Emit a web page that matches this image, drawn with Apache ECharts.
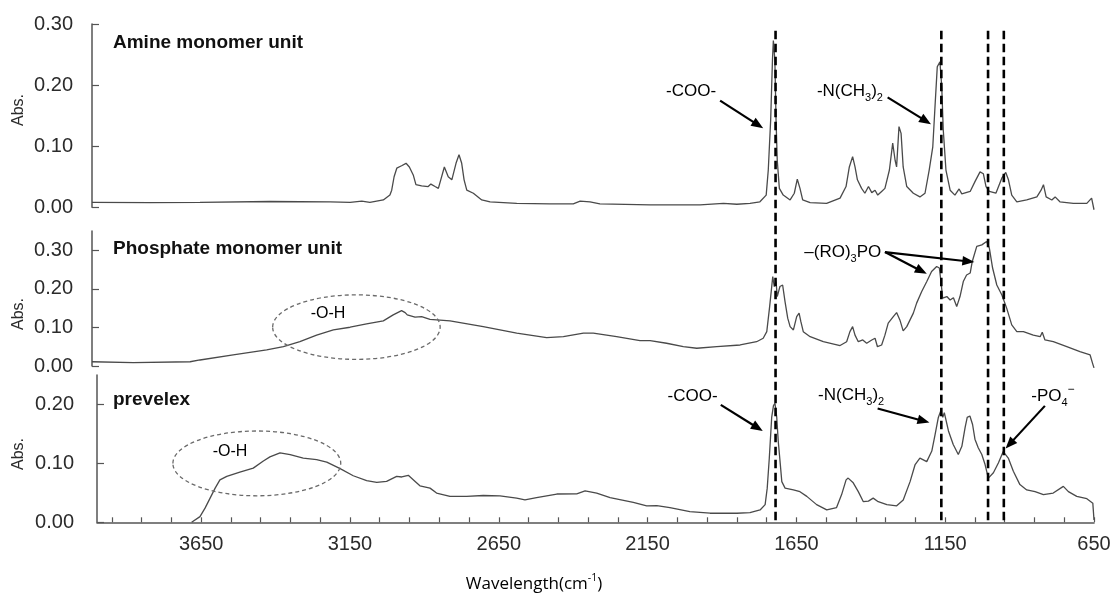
<!DOCTYPE html>
<html>
<head>
<meta charset="utf-8">
<script src="https://cdn.jsdelivr.net/npm/echarts@6/dist/echarts.min.js"></script>
<style>
  html, body { margin: 0; padding: 0; background: #fff; }
  #chart { width: 1115px; height: 594px; }
</style>
</head>
<body>
<div id="chart"></div>
<script>
// FT-IR absorbance spectra: [wavenumber (cm-1), absorbance]
const amineSpectrum = [
  [4000,0.008],[3806,0.0075],[3639,0.008],[3405,0.0095],[3204,0.009],[3137,0.008],[3098,0.010],[3071,0.008],
  [3026,0.012],[3004,0.020],[2998,0.028],[2990,0.050],[2981,0.064],[2965,0.068],[2950,0.072],[2939,0.066],
  [2926,0.053],[2917,0.037],[2898,0.035],[2876,0.034],[2867,0.038],[2853,0.034],[2842,0.031],[2834,0.045],
  [2822,0.066],[2809,0.050],[2797,0.045],[2783,0.072],[2773,0.086],[2764,0.072],[2756,0.045],[2747,0.028],
  [2725,0.023],[2697,0.012],[2669,0.009],[2580,0.0065],[2469,0.0055],[2391,0.0055],[2368,0.010],[2335,0.009],
  [2302,0.0055],[2134,0.004],[1967,0.004],[1889,0.0065],[1844,0.005],[1800,0.0065],[1767,0.009],[1746,0.020],
  [1739,0.061],[1731,0.143],[1725,0.241],[1722,0.273],[1717,0.241],[1713,0.143],[1709,0.077],[1702,0.031],
  [1689,0.020],[1666,0.012],[1652,0.023],[1642,0.046],[1633,0.031],[1624,0.012],[1599,0.0075],[1544,0.0065],
  [1499,0.015],[1479,0.034],[1468,0.066],[1457,0.083],[1449,0.066],[1441,0.045],[1427,0.031],[1416,0.023],
  [1404,0.034],[1393,0.024],[1382,0.028],[1373,0.020],[1360,0.026],[1349,0.031],[1334,0.061],[1323,0.105],
  [1315,0.077],[1310,0.066],[1302,0.132],[1295,0.121],[1288,0.066],[1276,0.034],[1254,0.023],[1232,0.017],
  [1215,0.023],[1201,0.061],[1189,0.099],[1181,0.170],[1174,0.230],[1165,0.238],[1159,0.197],[1154,0.127],
  [1145,0.061],[1131,0.028],[1115,0.020],[1101,0.030],[1092,0.022],[1064,0.026],[1048,0.042],[1031,0.058],
  [1020,0.055],[1011,0.034],[1000,0.026],[978,0.023],[958,0.048],[945,0.057],[936,0.045],[925,0.020],
  [908,0.009],[875,0.012],[841,0.017],[827,0.028],[819,0.037],[810,0.017],[791,0.012],[780,0.017],
  [764,0.009],[719,0.0065],[674,0.0065],[658,0.015],[650,-0.004]
];

const phosphateSpectrum = [
  [4000,0.011],[3862,0.0086],[3672,0.011],[3639,0.0156],[3528,0.0286],[3416,0.0416],[3360,0.050],[3305,0.063],
  [3249,0.080],[3193,0.0935],[3137,0.1005],[3082,0.109],[3026,0.117],[2993,0.1325],[2965,0.1437],[2953,0.1385],
  [2946,0.1325],[2920,0.1265],[2898,0.128],[2870,0.121],[2803,0.117],[2692,0.102],[2580,0.085],[2480,0.0736],
  [2424,0.0762],[2357,0.085],[2324,0.085],[2246,0.0762],[2168,0.0658],[2134,0.0658],[2079,0.059],[2023,0.050],
  [1978,0.046],[1911,0.050],[1833,0.0545],[1778,0.063],[1756,0.072],[1744,0.089],[1735,0.150],[1728,0.202],
  [1724,0.232],[1719,0.206],[1713,0.219],[1709,0.180],[1700,0.206],[1691,0.210],[1683,0.167],[1674,0.124],
  [1666,0.102],[1655,0.0935],[1644,0.128],[1636,0.137],[1630,0.115],[1622,0.089],[1599,0.076],[1555,0.063],
  [1499,0.053],[1477,0.063],[1466,0.089],[1457,0.102],[1449,0.080],[1438,0.063],[1423,0.0675],[1410,0.059],
  [1393,0.0675],[1382,0.072],[1374,0.050],[1360,0.0545],[1349,0.080],[1338,0.111],[1321,0.128],[1310,0.1385],
  [1299,0.1195],[1288,0.091],[1276,0.102],[1265,0.1195],[1254,0.137],[1243,0.163],[1226,0.193],[1209,0.219],
  [1193,0.245],[1176,0.258],[1167,0.254],[1161,0.215],[1156,0.176],[1142,0.180],[1131,0.171],[1120,0.177],
  [1109,0.154],[1098,0.180],[1087,0.219],[1076,0.236],[1064,0.241],[1057,0.271],[1042,0.310],[1025,0.314],
  [1009,0.323],[1000,0.306],[989,0.254],[975,0.210],[958,0.184],[942,0.150],[925,0.1065],[908,0.089],
  [886,0.089],[853,0.080],[830,0.076],[823,0.0875],[814,0.0675],[786,0.063],[741,0.050],[697,0.037],
  [663,0.0286],[654,0.005],[650,-0.005]
];

const prevelexSpectrum = [
  [3682,0],[3654,0.0096],[3637,0.024],[3620,0.041],[3603,0.058],[3587,0.072],[3564,0.078],[3520,0.085],
  [3475,0.092],[3441,0.104],[3419,0.111],[3385,0.118],[3351,0.115],[3307,0.109],[3262,0.1065],[3228,0.102],
  [3183,0.091],[3139,0.079],[3094,0.0706],[3060,0.0677],[3027,0.0694],[2993,0.078],[2976,0.0769],[2954,0.0797],
  [2931,0.0694],[2915,0.062],[2881,0.058],[2859,0.0496],[2814,0.044],[2758,0.044],[2702,0.0455],[2646,0.045],
  [2590,0.041],[2562,0.038],[2523,0.042],[2455,0.048],[2388,0.0484],[2360,0.0535],[2321,0.0496],[2276,0.042],
  [2198,0.034],[2153,0.028],[2119,0.0284],[2075,0.025],[2008,0.018],[1940,0.0154],[1850,0.0154],[1806,0.0164],
  [1772,0.021],[1755,0.030],[1748,0.058],[1741,0.109],[1733,0.178],[1727,0.198],[1722,0.202],[1716,0.178],
  [1711,0.138],[1705,0.104],[1699,0.069],[1688,0.058],[1660,0.055],[1638,0.052],[1615,0.044],[1582,0.030],
  [1548,0.021],[1515,0.025],[1498,0.047],[1483,0.072],[1476,0.075],[1459,0.067],[1442,0.052],[1425,0.035],
  [1408,0.036],[1392,0.041],[1375,0.035],[1346,0.030],[1313,0.028],[1291,0.038],[1268,0.069],[1251,0.098],
  [1235,0.109],[1212,0.103],[1195,0.121],[1184,0.149],[1173,0.178],[1165,0.189],[1158,0.178],[1153,0.186],
  [1139,0.155],[1123,0.132],[1106,0.115],[1094,0.129],[1083,0.161],[1076,0.178],[1067,0.1805],[1058,0.166],
  [1050,0.141],[1039,0.1265],[1027,0.115],[1016,0.098],[1005,0.075],[999,0.072],[988,0.084],[971,0.101],
  [955,0.120],[938,0.109],[921,0.0865],[899,0.064],[876,0.055],[848,0.052],[820,0.047],[787,0.0496],
  [753,0.061],[736,0.052],[708,0.044],[674,0.040],[654,0.0325],[650,0.004]
];

const panelTitles = ['Amine monomer unit', 'Phosphate monomer unit', 'prevelex'];
const panelMaxAbs = [0.30, 0.35, 0.25];
const absTickValues = [[0, 0.1, 0.2, 0.3], [0, 0.1, 0.2, 0.3], [0, 0.1, 0.2]];
const wavenumberLabels = [650, 1150, 1650, 2150, 2650, 3150, 3650];
const wavenumberMin = 650, wavenumberMax = 4000, minorStep = 100;
// marker bands drawn as dashed verticals through all panels (cm-1)
const bandLines = [1720, 1163, 1006, 953];
const bandTopAbs = 0.289; // top end of the band lines, in top-panel units

// annotation anchors in data units of their own panel
const annotations = [
  { panel: 0, label: '{b|-COO-}', at: [1997, 0.190], arrows: [[[1900, 0.1745], [1756, 0.1293]]] },
  { panel: 0, label: '{b|-N(CH}{s|3}{b|)}{s|2}', at: [1466, 0.190], arrows: [[[1340, 0.180], [1195, 0.136]]] },
  { panel: 1, label: '{b|\u2013(RO)}{s|3}{b|PO}', at: [1490, 0.2935],
    arrows: [[[1349, 0.2953], [1209, 0.239]], [[1349, 0.2953], [1050, 0.2694]]] },
  { panel: 1, label: '{o|-O-H}', at: [3211, 0.135], arrows: [] },
  { panel: 2, label: '{b|-COO-}', at: [1999, 0.2133], arrows: [[[1904, 0.1993], [1763, 0.1549]]] },
  { panel: 2, label: '{b|-N(CH}{s|3}{b|)}{s|2}', at: [1466, 0.2159], arrows: [[[1377, 0.1932], [1203, 0.1692]]] },
  { panel: 2, label: '{b|-PO}{s|4}{p|\u2212}', at: [788, 0.2142], arrows: [[[815, 0.1976], [947, 0.1253]]] },
  { panel: 2, label: '{o|-O-H}', at: [3553, 0.1202], arrows: [] }
];
// dashed ellipses: centre, half-width (cm-1), half-height (abs.)
const ellipses = [
  { panel: 1, center: [3116, 0.1008], halfWidth: 280, halfHeight: 0.0836 },
  { panel: 2, center: [3463, 0.100], halfWidth: 282, halfHeight: 0.055 }
];

const spectra = [amineSpectrum, phosphateSpectrum, prevelexSpectrum];
const gridBoxes = [
  { left: 92, right: 21, top: 24, height: 183.3 },
  { left: 92, right: 21, top: 231, height: 135 },
  { left: 97, right: 21, top: 375, height: 147.3 }
];

const FONT = '"Liberation Sans", Arial, sans-serif';
const AXIS_COLOR = '#555555';

const minorTicks = [];
for (let v = wavenumberMin; v < wavenumberMax; v += minorStep) minorTicks.push(v);

const option = {
  animation: false,
  backgroundColor: '#ffffff',
  grid: gridBoxes.map(g => Object.assign({ containLabel: false }, g)),
  xAxis: gridBoxes.map((g, i) => {
    const isBottom = i === 2;
    return {
      type: 'value', gridIndex: i, min: wavenumberMin, max: wavenumberMax, inverse: true,
      axisLine: { show: isBottom, onZero: false, lineStyle: { color: AXIS_COLOR, width: 1.6 } },
      axisTick: { show: isBottom, inside: true, length: 5, customValues: minorTicks,
                  lineStyle: { color: AXIS_COLOR, width: 1.2 } },
      axisLabel: { show: isBottom, customValues: wavenumberLabels, margin: 12,
                   formatter: v => String(v),
                   fontFamily: FONT, fontSize: 20, color: '#2b2b2b' },
      splitLine: { show: false }
    };
  }),
  yAxis: gridBoxes.map((g, i) => ({
    type: 'value', gridIndex: i, min: 0, max: panelMaxAbs[i],
    axisLine: { show: true, lineStyle: { color: AXIS_COLOR, width: 1.5 } },
    axisTick: { show: true, inside: true, length: 7, customValues: absTickValues[i],
                lineStyle: { color: AXIS_COLOR, width: 1.2 } },
    axisLabel: { customValues: absTickValues[i], formatter: v => v.toFixed(2),
                 margin: i === 2 ? 23 : 19, fontFamily: FONT, fontSize: 20, color: '#2b2b2b' },
    splitLine: { show: false }
  })),
  series: spectra.map((data, i) => ({
    name: panelTitles[i], type: 'line', xAxisIndex: i, yAxisIndex: i, data: data,
    showSymbol: false, symbol: 'none', clip: false, smooth: false,
    lineStyle: { color: '#4a4a4a', width: 1.3 }
  }))
};

const chart = echarts.init(document.getElementById('chart'), null, { renderer: 'canvas' });
chart.setOption(option);

function toPx(panel, point) {
  return chart.convertToPixel({ gridIndex: panel }, point);
}

const richStyles = {
  b: { fontFamily: FONT, fontSize: 17, color: '#1a1a1a', lineHeight: 24, verticalAlign: 'middle' },
  o: { fontFamily: FONT, fontSize: 16, color: '#1a1a1a', lineHeight: 24 },
  s: { fontFamily: FONT, fontSize: 11, color: '#1a1a1a', lineHeight: 12, verticalAlign: 'bottom' },
  p: { fontFamily: FONT, fontSize: 12, color: '#1a1a1a', lineHeight: 12, verticalAlign: 'top' }
};

function arrowElements(a, b) {
  const dx = b[0] - a[0], dy = b[1] - a[1];
  const len = Math.hypot(dx, dy), ux = dx / len, uy = dy / len;
  const headLen = 12, headHalf = 4.8;
  const base = [b[0] - ux * headLen, b[1] - uy * headLen];
  return [
    { type: 'line', z: 20, shape: { x1: a[0], y1: a[1], x2: base[0] + ux * 2, y2: base[1] + uy * 2 },
      style: { stroke: '#000', lineWidth: 2.2 } },
    { type: 'polygon', z: 20,
      shape: { points: [b, [base[0] - uy * headHalf, base[1] + ux * headHalf], [base[0] + uy * headHalf, base[1] - ux * headHalf]] },
      style: { fill: '#000' } }
  ];
}

const graphics = [];

// dashed band markers spanning all three panels
bandLines.forEach(w => {
  const bottom = toPx(2, [w, 0]);
  const top = toPx(0, [w, bandTopAbs]);
  graphics.push({ type: 'line', z: 15,
    shape: { x1: bottom[0], y1: top[1], x2: bottom[0], y2: bottom[1] },
    style: { stroke: '#000', lineWidth: 2.6, lineDash: [8.5, 4.5] } });
});

// dashed ellipses around the O-H band
ellipses.forEach(e => {
  const c = toPx(e.panel, e.center);
  const corner = toPx(e.panel, [e.center[0] - e.halfWidth, e.center[1] + e.halfHeight]);
  graphics.push({ type: 'ellipse', z: 12,
    shape: { cx: c[0], cy: c[1], rx: Math.abs(corner[0] - c[0]), ry: Math.abs(c[1] - corner[1]) },
    style: { fill: 'none', stroke: '#6a6a6a', lineWidth: 1.3, lineDash: [4, 3] } });
});

// annotation labels and arrows
annotations.forEach(a => {
  const p = toPx(a.panel, a.at);
  graphics.push({ type: 'text', z: 20, x: p[0], y: p[1],
    style: { text: a.label, rich: richStyles, align: 'center', verticalAlign: 'middle' } });
  a.arrows.forEach(seg => {
    arrowElements(toPx(a.panel, seg[0]), toPx(a.panel, seg[1])).forEach(el => graphics.push(el));
  });
});

// panel titles
panelTitles.forEach((t, i) => {
  const y = [43, 249, 400][i];
  graphics.push({ type: 'text', z: 20, x: 113, y: y,
    style: { text: t, fontFamily: FONT, fontSize: 19, fontWeight: 'bold', fill: '#111',
             align: 'left', verticalAlign: 'middle' } });
});

// y axis names
[110, 314, 454].forEach(y => {
  graphics.push({ type: 'text', z: 20, x: 19, y: y, rotation: Math.PI / 2,
    style: { text: 'Abs.', fontFamily: FONT, fontSize: 16, fill: '#2b2b2b',
             align: 'center', verticalAlign: 'middle' } });
});

// x axis name
graphics.push({ type: 'text', z: 20, x: 534, y: 584,
  style: { text: '{w|Wavelength(cm}{u|-1}{w|)}', align: 'center', verticalAlign: 'middle',
    rich: {
      w: { fontFamily: '"Open Sans", sans-serif', fontSize: 17, color: '#333', lineHeight: 22 },
      u: { fontFamily: '"Open Sans", sans-serif', fontSize: 10.5, color: '#333', lineHeight: 12, verticalAlign: 'top' }
    } } });

chart.setOption({ graphic: graphics });
</script>
</body>
</html>
